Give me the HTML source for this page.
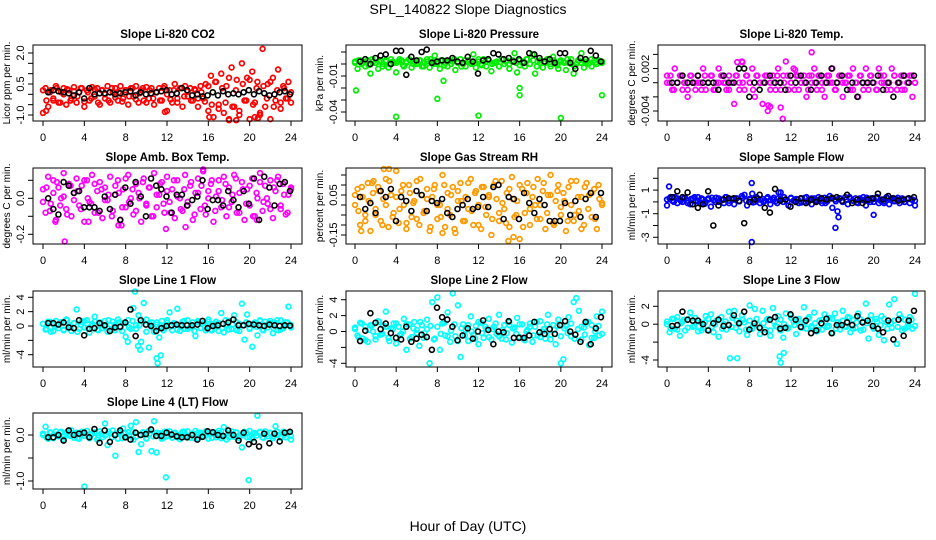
<!DOCTYPE html>
<html><head><meta charset="utf-8"><style>
body{margin:0;background:#fff;}
svg{display:block;font-family:"Liberation Sans",Arial,sans-serif;}
</style></head><body>
<svg id="chart" width="936" height="540" viewBox="0 0 936 540" xmlns="http://www.w3.org/2000/svg">
<rect x="0" y="0" width="936" height="540" fill="#fff"/>
<text x="468" y="14" text-anchor="middle" font-size="14">SPL_140822  Slope Diagnostics</text>
<text x="468" y="531" text-anchor="middle" font-size="14">Hour of Day (UTC)</text>
</svg>
<script>
const hourTicks=[0,4,8,12,16,20,24];
// Panel 1 CO2
const co2Main=[-0.9,0.3,-0.6,0.2,-0.3,0.4,-0.4,0.1,0.3,-0.5,0.2,-0.2,0.35,-0.4,0.1,0.3,-0.6,0.2,-0.3,0.35,-0.1,0.3,-0.5,0.2,-0.2,0.4,-0.4,0.1,0.3,-0.3,0.4,-0.2,0.2,-0.5,0.3,-0.1,0.4,-0.4,0.2,-0.3,0.35,-0.2,0.3,-0.5,0.1,0.3,-0.3,0.4,-0.8,0.2,-0.4,0.5,-0.2,0.3,-0.6,0.4,-0.1,0.3,-0.3,0.2,-0.6,0.4,-0.2,0.5,-0.8,0.9,-1.1,0.6,-0.5,1.0,-0.9,0.4,-1.2,1.3,-0.6,0.7,-1.0,1.5,-0.3,0.8,-1.2,1.1,-0.4,0.6,-1.0,2.2,-0.6,0.5,-1.2,0.8,-0.3,1.2,-0.7,0.4,-0.2,0.6,-0.4];
const co2Band=[0.2,-0.3,0.1,-0.2,0.3,-0.4,0.0,0.25,-0.3,0.15,-0.1,0.3,-0.35,0.1,-0.2,0.25,-0.4,0.2,0.0,-0.3,0.3,-0.15,0.1,-0.35,0.2,-0.1,0.3,-0.25,0.05,0.3,-0.4,0.2,-0.2,0.1,-0.3,0.3,0.0,-0.25,0.2,-0.4,0.3,-0.1,0.15,-0.3,0.25,-0.2,0.1,-0.35,0.4,-0.5,0.6,-0.7,0.3,-0.4,0.8,-0.6,0.2,-0.8,0.5,-0.3,0.7,-0.5,0.3,-0.9,0.4,-0.2,0.6,-0.6,0.2,-0.4,0.3,-0.2,0.1];
const co2OutHours=[0.3,11.8,16.1,18,18.7,20.5,20.8];
const co2OutVals=[-0.8,-0.85,-1.1,-1.25,-1.25,-1.1,-1.15];
const co2Black=[0.1,0.2,0.15,0.1,0.05,-0.05,0.1,-0.2,0.3,0.0,0.05,0.05,0.1,0.0,0.05,0.1,0.15,-0.05,0.1,0.0,0.05,0.1,0.15,0.2,0.0,0.05,0.3,0.2,-0.05,0.0,-0.1,-0.05,0.1,-0.05,0.15,0.0,0.05,0.0,0.1,0.2,0.0,0.15,0.05,-0.05,0.0,0.1,0.15,0.0];
// Panel 2 pressure
const presMain=[0.002,-0.004,0.003,0.001,-0.002,0.003,-0.008,0.002,0.001,-0.004,0.003,0.0,0.002,-0.003,0.004,0.001,-0.007,0.002,0.003,-0.002,0.001,0.004,-0.003,0.002,0.0,0.003,-0.002,0.001,0.004,-0.003,0.002,0.007,0.0,-0.004,0.003,0.001,-0.002,0.003,0.002,-0.005,0.001,0.004,0.0,-0.002,0.003,0.001,0.008,-0.003,0.002,0.0,0.004,-0.002,0.003,-0.006,0.001,0.002,-0.002,0.004,0.0,0.003,-0.004,0.002,0.009,-0.007,0.003,0.001,-0.002,0.004,0.0,0.008,-0.008,0.002,0.003,-0.003,0.001,0.004,-0.002,0.006,0.0,-0.004,0.003,0.002,-0.005,0.001,0.004,-0.008,0.0,0.003,0.009,-0.003,0.002,0.001,-0.002,0.003,0.0,0.002,0.001];
const presBand=[0.001,0.003,0.0,0.002,-0.001,0.004,0.001,0.002,-0.002,0.003,0.0,0.002,0.001,0.004,-0.001,0.002,0.003,0.0,0.001,0.003,-0.002,0.002,0.004,0.0,0.001,0.003,-0.001,0.002,0.0,0.004,0.001,-0.002,0.003,0.002,0.0,0.001,0.004,-0.001,0.002,0.003,0.0,0.001,-0.002,0.004,0.002,0.0,0.003,0.001,-0.001,0.002,0.004,0.0,0.003,-0.002,0.001,0.002,0.004,0.0,0.003,-0.001,0.002,0.001,0.004,0.0,-0.002,0.003,0.001,0.002,0.0,0.004,0.001,0.003,0.002];
const presOutHours=[0.1,4.0,8.0,8.6,12.0,16.0,16.0,20.0,24.0];
const presOutVals=[-0.022,-0.044,-0.029,-0.014,-0.043,-0.026,-0.02,-0.045,-0.026];
const presBlack=[0.002,0.004,0.0,0.005,0.007,0.008,0.0,0.011,0.011,-0.009,0.006,0.003,0.01,0.012,0.001,0.002,0.003,0.003,0.005,0.002,0.001,0.006,0.002,-0.008,0.003,0.004,0.009,0.008,0.004,0.005,0.002,0.004,0.001,0.009,0.008,0.005,0.002,0.004,0.001,0.009,0.009,0.001,-0.004,0.005,0.004,0.011,0.007,0.002];
// Panel 3 Li-820 temp
const ltMain=[0.001,0,-0.001,0.002,0,0.001,-0.001,0,-0.002,0.001,0,-0.001,0.001,0,0.002,-0.001,0,0.001,-0.001,0,0.002,0.001,0,-0.001,0.001,0,-0.003,0.001,0,0.003,-0.001,0.001,0,0.002,-0.002,0.001,0,-0.003,0.001,-0.004,0,0.001,-0.001,0.002,0,0.001,0.003,-0.001,0,0.002,0.001,-0.001,0,0.001,-0.002,0.001,0,0.002,-0.001,0.001,0,-0.002,0.001,0,0.002,-0.001,0,0.001,-0.002,0,0.001,-0.001,0.002,0,-0.002,0.001,0,0.002,-0.001,0.001,0,-0.001,0.002,0,0.001,-0.001,0,0.002,0.001,-0.001,0,-0.001,0.001,0,0.001,-0.002,0];
const ltBand=[0,0.001,-0.001,0,0.001,0,-0.001,0.001,0,0,-0.001,0.001,0,0.001,-0.001,0,0.001,0,-0.001,0,0.001,-0.001,0,0.001,0,-0.001,0.001,0,0,0.001,-0.001,0,0.001,-0.001,0,0.001,0,-0.001,0.001,0,0,-0.001,0.001,0,0.001,-0.001,0,0.001,0,-0.001,0.001,0,0,0.001,-0.001,0,0.001,-0.001,0,0.001,0,-0.001,0.001,0,0,-0.001,0.001,0,0.001,-0.001,0,0.001,0];
const ltOutHours=[6.8,7.3,11.2,12.4,14.0,9.8,10.0,11.0];
const ltOutVals=[0.0029,0.0029,-0.0051,0.0018,0.0043,-0.0032,-0.0034,-0.0035];
const ltBlack=[0,0,0.001,0,0,0.001,0,0,0,-0.001,0.001,0,0,0.002,0.002,-0.002,0,-0.001,0,0.001,0,0,-0.001,0.001,0,0.001,0,-0.001,0,0.001,0,0.002,0,0.001,-0.001,0,-0.002,0,0,0,0.001,-0.001,0,-0.002,0,0.001,0,0.001];
// Panel 4 amb box temp
const abMain=[0.05,-0.08,0.12,-0.03,0.1,-0.12,0.06,0.0,0.14,-0.06,0.08,-0.1,0.03,0.11,-0.04,0.07,-0.13,0.1,-0.02,0.13,-0.08,0.04,0.09,-0.11,0.06,-0.01,0.12,-0.07,0.02,0.1,-0.12,0.05,-0.05,0.13,0.0,-0.09,0.08,0.03,-0.13,0.11,-0.03,0.06,-0.1,0.14,-0.05,0.02,0.09,-0.08,0.12,-0.02,0.05,-0.11,0.1,0.0,-0.07,0.13,-0.04,0.07,-0.12,0.03,0.11,-0.06,0.15,-0.09,0.04,0.08,-0.13,0.01,0.1,-0.05,0.12,-0.1,0.06,-0.02,0.13,-0.08,0.03,0.09,-0.12,0.05,-0.04,0.11,-0.1,0.0,0.14,-0.07,0.07,-0.03,0.1,-0.11,0.04,0.12,-0.06,0.08,-0.09,0.02,0.06];
const abBand=[-0.02,0.06,-0.07,0.03,0.09,-0.04,0.01,-0.09,0.07,-0.01,0.04,-0.06,0.1,0.0,-0.03,0.08,-0.08,0.05,-0.01,0.02,-0.1,0.07,0.03,-0.05,0.11,-0.02,0.05,-0.07,0.0,0.09,-0.04,0.06,-0.1,0.02,0.08,-0.03,0.04,-0.08,0.1,0.01,-0.06,0.05,-0.02,0.09,-0.09,0.03,0.07,-0.04,0.0,0.1,-0.07,0.04,-0.01,0.08,-0.05,0.02,0.11,-0.08,0.05,-0.03,0.07,-0.1,0.03,0.09,-0.02,0.0,-0.06,0.06,0.1,-0.04,0.02,-0.08,0.05];
const abOutHours=[2.1,1.2,4.4,11.9,13.8,20.7,7.3,7.6,15.5];
const abOutVals=[-0.24,-0.13,-0.13,-0.17,-0.16,-0.12,-0.15,-0.15,0.16];
const abBlack=[0.0,-0.06,-0.09,0.09,0.07,0.03,0.04,-0.05,-0.05,-0.05,-0.07,0.01,-0.06,0.02,-0.12,0.06,-0.03,0.09,0.01,-0.1,0.11,0.07,0.05,0.01,-0.08,0.02,0.02,-0.04,-0.01,0.01,0.1,-0.06,-0.01,-0.01,-0.04,0.04,-0.01,-0.05,0.04,-0.03,0.11,-0.12,0.12,0.06,-0.04,0.08,0.09,0.04];
// Panel 5 RH
const rhMain=[0.0,0.08,-0.1,0.04,-0.05,0.11,-0.13,0.06,-0.02,0.09,-0.08,0.03,0.13,-0.11,0.05,-0.04,0.17,-0.09,0.07,0.0,-0.12,0.1,-0.06,0.02,0.12,-0.1,0.05,-0.03,0.08,-0.13,0.04,0.1,-0.07,0.0,0.15,-0.11,0.06,-0.05,0.09,-0.14,0.02,0.11,-0.08,0.04,-0.02,0.13,-0.1,0.07,0.0,-0.12,0.09,-0.05,0.05,-0.15,0.1,0.03,-0.08,0.12,-0.02,0.06,-0.11,0.14,-0.06,0.02,-0.17,0.08,-0.04,0.11,-0.1,0.04,0.0,0.13,-0.07,0.07,-0.12,0.05,0.15,-0.09,0.02,0.1,-0.05,0.06,-0.13,0.09,0.0,-0.08,0.12,-0.03,0.04,-0.1,0.11,0.05,-0.06,0.08,-0.12,0.03,0.01];
const rhBand=[0.05,-0.03,0.09,-0.08,0.02,0.11,-0.05,0.07,-0.1,0.0,0.12,-0.06,0.04,-0.02,0.1,-0.09,0.06,0.01,-0.07,0.13,-0.04,0.03,-0.11,0.08,0.0,-0.06,0.1,-0.02,0.05,-0.12,0.07,0.02,-0.08,0.11,-0.03,0.06,-0.1,0.09,-0.01,0.04,-0.07,0.12,-0.04,0.01,-0.09,0.08,0.03,-0.05,0.1,-0.11,0.06,-0.02,0.09,-0.07,0.0,0.11,-0.04,0.05,-0.1,0.07,-0.01,0.02,-0.08,0.12,-0.05,0.04,-0.12,0.09,-0.02,0.06,-0.07,0.1,0.0];
const rhOutHours=[0.6,1.8,2.8,3.3,8.5,14.9,15.4];
const rhOutVals=[-0.13,0.12,0.18,0.18,-0.14,-0.18,-0.16];
const rhBlack=[0.04,-0.02,0.01,-0.04,0.07,0.04,0.08,-0.08,0.04,0.02,-0.03,0.07,0.05,-0.03,0.02,0.01,0.03,-0.04,-0.06,-0.02,0.0,0.03,-0.02,-0.01,0.04,-0.01,0.09,0.1,-0.07,0.04,0.03,-0.07,0.06,0.01,-0.04,0.03,0.0,-0.08,-0.08,-0.08,0.01,-0.05,0.02,-0.06,0.03,0.06,-0.06,0.06];
// Panel 6 sample flow
const sfMain=[-0.3,0.3,0.1,0.4,-0.1,0.2,0.0,0.35,0.1,-0.2,0.3,0.05,0.4,-0.1,0.2,0.0,0.3,-0.4,0.15,0.35,0.0,0.2,-0.1,0.4,0.1,0.25,-0.2,0.3,0.05,0.5,0.6,-0.3,0.2,0.7,0.0,0.3,-0.1,0.25,0.1,0.4,-0.2,0.2,0.05,0.3,0.8,0.0,0.2,-0.3,0.35,0.1,0.25,-0.1,0.3,0.0,0.4,0.15,-0.2,0.3,0.1,0.2,-0.1,0.35,0.05,0.5,-0.5,0.2,-0.8,0.3,0.0,0.4,-0.2,0.25,0.1,0.3,-0.1,0.2,0.4,-0.3,0.15,0.3,0.0,0.35,-0.1,0.2,0.05,0.4,-0.2,0.3,0.1,0.2,-0.1,0.3,0.0,0.25,-0.1,0.2,-0.3];
const sfBand=[0.2,0.4,0.0,0.3,0.1,0.35,-0.1,0.25,0.4,0.05,0.3,-0.15,0.2,0.35,0.0,0.3,0.15,0.4,-0.1,0.2,0.3,0.05,0.35,0.1,0.25,-0.05,0.4,0.2,0.0,0.3,0.15,0.35,-0.1,0.25,0.4,0.05,0.3,0.1,0.2,-0.05,0.35,0.0,0.3,0.15,0.4,0.1,-0.1,0.25,0.35,0.05,0.3,0.0,0.2,0.4,0.1,-0.05,0.3,0.15,0.35,0.0,0.25,0.4,0.1,-0.1,0.3,0.2,0.05,0.35,0.15,0.0,0.3,0.2,0.1];
const sfOutHours=[0.2,8.2,8.2,16.3,16.6,20.0,10.8];
const sfOutVals=[1.3,1.6,-3.4,-2.2,-1.3,-1.1,0.8];
const sfBlack=[0.4,0.9,0.4,0.8,-0.2,-0.5,-0.2,0.9,-2.0,-0.3,0.2,0.3,0.3,0.1,-1.8,0.0,0.2,0.6,-0.5,-0.9,1.1,0.1,0.2,-0.4,0.0,0.3,-0.1,0.2,0.0,0.3,0.2,0.3,0.4,0.1,0.6,-0.1,0.2,-0.1,0.2,0.3,0.7,0.2,0.5,0.3,0.1,0.2,0.3,0.4];
// Panel 7 line 1
const l1Main=[0.3,-0.5,0.6,-0.8,0.2,0.7,-0.3,0.5,-0.6,0.9,0.1,-0.7,0.4,2.3,-0.4,0.6,-0.2,0.8,-0.9,0.3,1.3,-0.5,0.5,-0.3,0.7,-0.8,0.2,0.6,-0.6,0.9,-0.2,0.4,-1.5,0.8,-0.4,2.5,0.1,1.5,-2.2,3.2,0.9,-3.0,0.5,-0.8,0.2,-1.6,0.7,-0.3,0.5,1.9,-0.6,0.3,2.4,-0.7,0.6,-0.4,0.8,-0.2,0.5,-1.4,0.7,-0.3,0.4,-0.6,0.9,-0.5,0.3,0.6,-0.7,1.8,-0.9,0.2,0.7,-0.4,1.5,-0.6,0.3,3.1,-1.9,1.6,-0.3,-2.9,0.5,-1.3,0.8,-0.5,0.6,-0.2,0.7,-1.0,0.4,-0.6,0.8,-0.3,0.5,2.7,0.1];
const l1Band=[0.3,-0.4,0.6,-0.7,0.1,0.5,-0.5,0.8,-0.2,0.4,-0.8,0.2,0.7,-0.3,0.0,0.6,-0.6,0.3,-0.1,0.8,-0.5,0.2,0.5,-0.7,0.4,-0.2,0.7,-0.4,0.1,0.6,-0.8,0.3,-0.3,0.5,0.0,-0.6,0.8,-0.1,0.4,-0.5,0.2,0.7,-0.4,0.1,-0.7,0.5,0.3,-0.2,0.6,-0.6,0.0,0.4,-0.3,0.8,-0.5,0.2,0.6,-0.7,0.1,0.5,-0.4,0.3,-0.1,0.7,-0.6,0.2,0.4,-0.3,0.8,-0.5,0.0,0.5,-0.2];
const l1OutHours=[11.0,11.1,11.4,9.2,9.4,8.2,8.9];
const l1OutVals=[-4.5,-5.2,-4.1,-2.8,-3.3,-2.2,4.8];
const l1Black=[0.4,0.4,0.2,0.5,-0.2,-0.3,0.8,-1.3,-0.4,-0.3,0.4,0.1,-0.7,-0.2,-0.1,0.5,2.3,-1.4,0.8,0.2,0.0,-0.7,-0.3,0.0,0.1,0.2,0.1,0.1,0.1,0.2,0.7,-0.3,0.0,0.1,0.3,0.5,0.9,0.1,0.1,0.3,0.2,0.1,0.0,0.2,0.1,0.0,0.1,0.05];
// Panel 8 line 2
const l2Main=[0.3,-0.5,1.1,-0.9,0.6,-1.3,0.8,0.0,-1.0,1.3,-0.4,0.7,2.5,-0.8,0.4,1.0,-1.5,0.6,-0.3,1.6,-2.3,0.9,-0.7,1.2,0.2,-1.8,0.8,-0.2,1.5,-4.0,3.7,-0.9,4.3,-2.3,1.0,-0.5,2.4,-1.3,4.8,-0.6,3.3,-3.2,0.9,0.2,-1.2,1.9,-0.4,0.7,-1.6,1.1,-0.8,0.3,1.6,-1.0,0.6,-0.3,2.1,-0.9,0.8,-0.2,1.2,-1.4,0.5,1.7,-0.7,0.9,-1.1,0.2,1.0,-1.3,0.6,-0.5,1.3,0.0,-0.9,2.1,-0.4,0.8,-1.6,1.5,-4.0,-3.5,0.7,1.8,-0.6,3.7,4.2,2.6,-1.0,0.5,1.2,-1.7,0.8,-0.8,1.9,-0.5,2.5];
const l2Band=[0.5,-0.7,1.0,-1.1,0.2,0.8,-0.6,1.2,-0.3,0.6,-1.2,0.3,1.0,-0.5,0.0,0.9,-0.9,0.4,-0.2,1.2,-0.8,0.3,0.7,-1.0,0.6,-0.3,1.1,-0.6,0.1,0.9,-1.2,0.4,-0.5,0.8,0.0,-0.9,1.2,-0.2,0.6,-0.7,0.3,1.0,-0.6,0.2,-1.0,0.8,0.4,-0.3,0.9,-0.9,0.0,0.6,-0.5,1.2,-0.7,0.3,0.9,-1.0,0.2,0.7,-0.6,0.4,-0.2,1.0,-0.9,0.3,0.6,-0.4,1.2,-0.8,0.0,0.7,-0.3];
const l2OutHours=[];
const l2OutVals=[];
const l2Black=[-1.2,0.1,2.3,1.1,0.3,1.0,-0.2,-0.8,-1.0,0.6,-1.3,-0.9,-0.4,-0.7,-2.3,3.0,1.8,1.5,0.6,-1.1,-0.5,0.4,-0.9,0.0,1.4,0.2,-1.6,0.0,-0.1,1.3,-0.8,-0.8,-0.8,-0.5,1.2,-0.1,-0.3,0.3,-0.3,0.8,1.3,0.0,-0.4,-1.3,1.2,-1.6,0.4,1.8];
// Panel 9 line 3
const l3Main=[0.0,-0.9,0.6,-0.5,0.8,-1.3,0.3,-0.7,0.5,1.3,-0.3,0.7,-0.8,0.2,-0.4,0.9,-0.6,1.1,-0.9,0.4,-1.4,0.8,0.0,-0.6,1.4,-0.3,1.5,0.4,-0.8,1.0,0.2,-1.2,2.1,-0.5,1.7,0.0,-1.1,1.5,-0.6,0.6,-1.3,1.8,-0.2,0.9,-0.7,-1.5,1.2,-0.4,1.0,0.3,-1.1,0.6,-0.3,1.9,-0.5,0.8,-0.2,1.3,-0.8,0.4,-0.6,1.1,-0.3,0.7,-1.0,1.2,0.2,-0.6,1.5,-0.2,0.8,-0.9,0.5,-0.4,1.2,-0.7,0.3,2.3,-1.6,1.0,-0.5,0.6,-1.2,0.9,-1.8,0.2,2.2,-0.4,2.8,-2.2,1.1,-0.7,0.5,-0.3,0.8,-0.5,3.4];
const l3Band=[0.3,-0.5,0.6,-0.6,0.1,0.5,-0.4,0.7,-0.2,0.4,-0.7,0.2,0.6,-0.3,0.0,0.5,-0.5,0.3,-0.1,0.7,-0.4,0.2,0.5,-0.6,0.4,-0.2,0.6,-0.4,0.1,0.5,-0.7,0.3,-0.3,0.5,0.0,-0.5,0.7,-0.1,0.4,-0.4,0.2,0.6,-0.4,0.1,-0.6,0.5,0.3,-0.2,0.6,-0.5,0.0,0.4,-0.3,0.7,-0.5,0.2,0.6,-0.6,0.1,0.5,-0.4,0.3,-0.1,0.6,-0.5,0.2,0.4,-0.3,0.7,-0.5,0.0,0.5,-0.2];
const l3OutHours=[6.1,6.8,10.9,11.0,11.3];
const l3OutVals=[-3.8,-3.8,-3.6,-4.3,-3.2];
const l3Black=[-0.2,-0.1,1.4,0.5,0.4,0.4,0.0,-0.7,0.1,0.5,-0.2,-0.1,1.0,0.1,1.4,-0.6,0.1,-0.4,-0.9,0.5,0.8,-0.5,-0.4,1.1,0.5,-0.3,0.4,-1.0,-0.7,0.1,0.6,-1.0,-0.1,-0.1,0.2,-0.1,0.9,0.2,0.4,-0.2,-0.5,-0.9,0.4,-1.7,0.5,-1.3,0.4,1.5];
// Panel 10 line 4
const l4Main=[0.0,0.18,-0.08,0.05,-0.06,0.08,-0.03,0.07,-0.09,0.04,0.0,0.1,-0.06,0.05,-0.08,0.07,-0.02,0.09,-0.07,0.03,0.06,-0.1,0.08,-0.05,0.25,-0.22,0.03,0.1,-0.45,-0.08,0.07,0.14,-0.04,0.06,0.2,-0.1,0.28,-0.37,-0.2,0.05,-0.08,0.09,-0.35,0.3,-0.38,0.04,-0.08,0.07,-0.03,0.08,-0.06,0.05,0.0,-0.09,0.07,-0.04,0.08,-0.06,0.03,0.09,-0.07,0.05,-0.02,0.08,-0.08,0.04,0.06,-0.05,0.09,-0.07,0.17,-0.1,0.03,0.08,-0.04,0.05,-0.03,-0.27,0.07,-0.05,0.09,-0.08,0.04,0.42,0.06,-0.05,0.08,-0.03,0.05,-0.07,0.19,0.0,-0.06,0.07,-0.05,0.05,-0.1];
const l4Band=[0.03,-0.05,0.06,-0.07,0.01,0.05,-0.04,0.07,-0.02,0.04,-0.07,0.02,0.06,-0.03,0.0,0.05,-0.06,0.03,-0.01,0.07,-0.05,0.02,0.05,-0.07,0.04,-0.02,0.07,-0.04,0.01,0.06,-0.07,0.03,-0.03,0.05,0.0,-0.06,0.07,-0.01,0.04,-0.05,0.02,0.07,-0.04,0.01,-0.07,0.05,0.03,-0.02,0.06,-0.06,0.0,0.04,-0.03,0.07,-0.05,0.02,0.06,-0.07,0.01,0.05,-0.04,0.03,-0.01,0.07,-0.06,0.02,0.04,-0.03,0.07,-0.05,0.0,0.05,-0.02];
const l4OutHours=[4.0,11.9,19.9];
const l4OutVals=[-1.12,-0.92,-0.98];
const l4Black=[-0.05,-0.05,0.0,-0.12,0.1,0.0,0.03,0.05,-0.05,0.13,-0.17,0.1,-0.15,0.0,0.1,-0.05,-0.1,0.05,0.0,0.02,0.12,-0.02,-0.02,0.05,0.01,-0.03,-0.05,-0.05,0.0,-0.1,-0.04,0.08,0.06,0.0,-0.02,0.1,0.0,-0.12,0.05,-0.2,-0.15,-0.25,0.03,-0.18,0.03,-0.14,0.05,0.07];

const NS="http://www.w3.org/2000/svg";
const svg=document.getElementById('chart');
const cols=[{l:33,r:302,x0:43,x24:291},{l:346,r:612,x0:355,x24:602},{l:658,r:925,x0:667,x24:915}];
const rows=[{t:45,b:121},{t:168,b:244},{t:291,b:367},{t:413,b:489}];
const panels=[
{title:"Slope Li-820 CO2",yl:"Licor ppm per min.",c:0,r:0,color:"#ff0000",main:co2Main,band:co2Band,oh:co2OutHours,ov:co2OutVals,blk:co2Black,a:[-1,115],b:[2,53],ticks:[-1,-0.5,0,0.5,1,1.5,2],labs:[[-1,"-1.0"],[0.5,"0.5"],[2,"2.0"]]},
{title:"Slope Li-820 Pressure",yl:"kPa per min.",c:1,r:0,color:"#00ee00",main:presMain,band:presBand,oh:presOutHours,ov:presOutVals,blk:presBlack,a:[0,64],b:[-0.04,112],ticks:[0.01,0,-0.01,-0.02,-0.03,-0.04],labs:[[-0.01,"-0.01"],[-0.04,"-0.04"]]},
{title:"Slope Li-820 Temp.",yl:"degrees C per min.",c:2,r:0,color:"#ff00ff",main:ltMain,band:ltBand,oh:ltOutHours,ov:ltOutVals,blk:ltBlack,a:[0,82.7],b:[-0.004,111],ticks:[0.004,0.002,0,-0.002,-0.004],labs:[[0.002,"0.002"],[-0.004,"-0.004"]]},
{title:"Slope Amb. Box Temp.",yl:"degrees C per min.",c:0,r:1,color:"#ff00ff",main:abMain,band:abBand,oh:abOutHours,ov:abOutVals,blk:abBlack,a:[0,198.3],b:[-0.2,234.3],ticks:[0.1,0,-0.1,-0.2],labs:[[0,"0.0"],[-0.2,"-0.2"]]},
{title:"Slope Gas Stream RH",yl:"percent per min.",c:1,r:1,color:"#ff9a00",main:rhMain,band:rhBand,oh:rhOutHours,ov:rhOutVals,blk:rhBlack,a:[0.15,175],b:[-0.15,235],ticks:[0.15,0.1,0.05,0,-0.05,-0.1,-0.15],labs:[[0.05,"0.05"],[-0.15,"-0.15"]]},
{title:"Slope Sample Flow",yl:"ml/min per min.",c:2,r:1,color:"#0000ff",main:sfMain,band:sfBand,oh:sfOutHours,ov:sfOutVals,blk:sfBlack,a:[2,178.3],b:[-3,237.3],ticks:[2,1,0,-1,-2,-3],labs:[[1,"1"],[-1,"-1"],[-3,"-3"]]},
{title:"Slope Line 1 Flow",yl:"ml/min per min.",c:0,r:2,color:"#00ffff",main:l1Main,band:l1Band,oh:l1OutHours,ov:l1OutVals,blk:l1Black,a:[4,297.3],b:[-4,354.7],ticks:[4,2,0,-2,-4],labs:[[4,"4"],[2,"2"],[0,"0"],[-4,"-4"]]},
{title:"Slope Line 2 Flow",yl:"ml/min per min.",c:1,r:2,color:"#00ffff",main:l2Main,band:l2Band,oh:l2OutHours,ov:l2OutVals,blk:l2Black,a:[4,299.7],b:[-4,363.3],ticks:[4,2,0,-2,-4],labs:[[4,"4"],[2,"2"],[0,"0"],[-4,"-4"]]},
{title:"Slope Line 3 Flow",yl:"ml/min per min.",c:2,r:2,color:"#00ffff",main:l3Main,band:l3Band,oh:l3OutHours,ov:l3OutVals,blk:l3Black,a:[2,306.3],b:[-4,360],ticks:[2,0,-2,-4],labs:[[2,"2"],[0,"0"],[-4,"-4"]]},
{title:"Slope Line 4 (LT) Flow",yl:"ml/min per min.",c:0,r:3,color:"#00ffff",main:l4Main,band:l4Band,oh:l4OutHours,ov:l4OutVals,blk:l4Black,a:[0,435],b:[-1,481],ticks:[0,-0.5,-1],labs:[[0,"0.0"],[-1,"-1.0"]]}
];
function mk(tag,attrs,parent){const e=document.createElementNS(NS,tag);for(const k in attrs)e.setAttribute(k,attrs[k]);(parent||svg).appendChild(e);return e;}
panels.forEach((p,pi)=>{
  const C=cols[p.c],R=rows[p.r];
  const g=mk('g',{});
  
  
  const xs=h=>C.x0+(C.x24-C.x0)*h/24;
  const ys=v=>p.a[1]+(v-p.a[0])*(p.b[1]-p.a[1])/(p.b[0]-p.a[0]);
  const t=mk('text',{x:(C.l+C.r)/2,y:R.t-7,'text-anchor':'middle','font-size':'11.5','font-weight':'bold'},g);
  t.textContent=p.title;
  
  
  const cg=mk('g',{fill:'none',stroke:p.color,'stroke-width':'1.7'},g);
  
  
  const nb=p.band.length;
  p.band.forEach((v,i)=>{const c=mk('circle',{cx:xs(i*24/(nb-1)),cy:ys(v),r:2.4},cg);
    
    });
  const n=p.main.length;
  p.main.forEach((v,i)=>{const c=mk('circle',{cx:xs(i*24/(n-1)),cy:ys(v),r:2.4},cg);
    
    });
  p.oh.forEach((h,i)=>{const c=mk('circle',{cx:xs(h),cy:ys(p.ov[i]),r:2.4},cg);
    
    });
  const bg=mk('g',{fill:'none',stroke:'#000','stroke-width':'1.6'},g);
  
  
  const m=p.blk.length;
  p.blk.forEach((v,i)=>{const c=mk('circle',{cx:xs(0.5+i*23.4/(m-1)),cy:ys(v),r:2.5},bg);
    
    });
  const box=mk('rect',{x:C.l,y:R.t,width:C.r-C.l,height:R.b-R.t,fill:'none',stroke:'#000','stroke-width':'1'},g);
  
  
  const ax=mk('g',{stroke:'#000','stroke-width':'1'},g);
  
  
  hourTicks.forEach(h=>{mk('line',{x1:xs(h),x2:xs(h),y1:R.b,y2:R.b+5},ax);
    const l=mk('text',{x:xs(h),y:R.b+20,'text-anchor':'middle','font-size':'11',stroke:'none',fill:'#000'},ax);l.textContent=h;
    
    });
  const ay=mk('g',{stroke:'#000','stroke-width':'1'},g);
  
  
  p.ticks.forEach(v=>mk('line',{x1:C.l-5,x2:C.l,y1:ys(v),y2:ys(v)},ay));
  p.labs.forEach(([v,s])=>{const y=ys(v),x=C.l-9;
    const l=mk('text',{x:x,y:y,'text-anchor':'middle','font-size':'11',stroke:'none',fill:'#000',transform:`rotate(-90 ${x} ${y})`},ay);l.textContent=s;
    
    });
  const yt=C.l-23,ym=(R.t+R.b)/2;
  const tl=mk('text',{x:yt,y:ym,'text-anchor':'middle','font-size':'10',transform:`rotate(-90 ${yt} ${ym})`},g);
  tl.textContent=p.yl;
  
  
});
</script>
</body></html>
